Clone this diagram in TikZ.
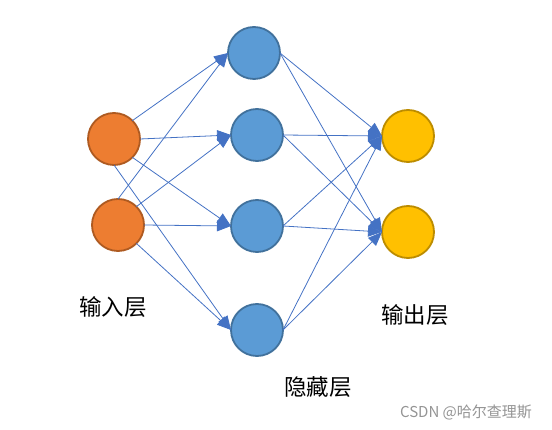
\documentclass[tikz,border=0pt]{standalone}
\usepackage{fontspec}
\setmainfont{Noto Sans CJK SC}
\usetikzlibrary{arrows.meta}
\definecolor{inF}{HTML}{ED7D31}\definecolor{inD}{HTML}{AE5A21}
\definecolor{hidF}{HTML}{5B9BD5}\definecolor{hidD}{HTML}{41719C}
\definecolor{outF}{HTML}{FFC000}\definecolor{outD}{HTML}{BC8C00}
\definecolor{edge}{HTML}{4472C4}
\begin{document}
\begin{tikzpicture}[x=1pt,y=-1pt,
  neuron/.style={circle,minimum size=52pt,inner sep=0pt,line width=1.8pt,outer sep=0pt},
  inneuron/.style={neuron,fill=inF,draw=inD},
  hidneuron/.style={neuron,fill=hidF,draw=hidD},
  outneuron/.style={neuron,fill=outF,draw=outD},
  conn/.style={draw=edge,line width=0.8pt,-{Triangle[length=14pt,width=11pt]}},
  lab/.style={font=\fontsize{22.5}{24}\selectfont,inner sep=0pt},
  wm/.style={font=\fontsize{15}{17}\selectfont,text=black!42,inner sep=0pt}]
\useasboundingbox (0,0) rectangle (552,430);
\node[inneuron] (i1) at (114,139) {};
\node[inneuron] (i2) at (118,225) {};
\node[hidneuron] (h1) at (254,53) {};
\node[hidneuron] (h2) at (257,135) {};
\node[hidneuron] (h3) at (257,226) {};
\node[hidneuron] (h4) at (257,330) {};
\node[outneuron] (o1) at (408,136) {};
\node[outneuron] (o2) at (408,232) {};
% input -> hidden
\draw[conn] (i1.45) -- (h1.west);
\draw[conn] (i1.east) -- (h2.west);
\draw[conn] (i1.-45) -- (h3.west);
\draw[conn] (i1.south) -- (h4.west);
\draw[conn] (i2.north) -- (h1.west);
\draw[conn] (i2.45) -- (h2.west);
\draw[conn] (i2.east) -- (h3.west);
\draw[conn] (i2.-45) -- (h4.west);
% hidden -> output
\foreach \h in {h1,h2,h3,h4}{
  \draw[conn] (\h.east) -- (o1.west);
  \draw[conn] (\h.east) -- (o2.west);
}
\node[lab] (l1) at (113,307) {输入层};
\node[lab] (l2) at (318,387) {隐藏层};
\node[lab] (l3) at (415,315) {输出层};
\node[wm] (w) at (466,412) {CSDN @哈尔查理斯};
\end{tikzpicture}
\end{document}
